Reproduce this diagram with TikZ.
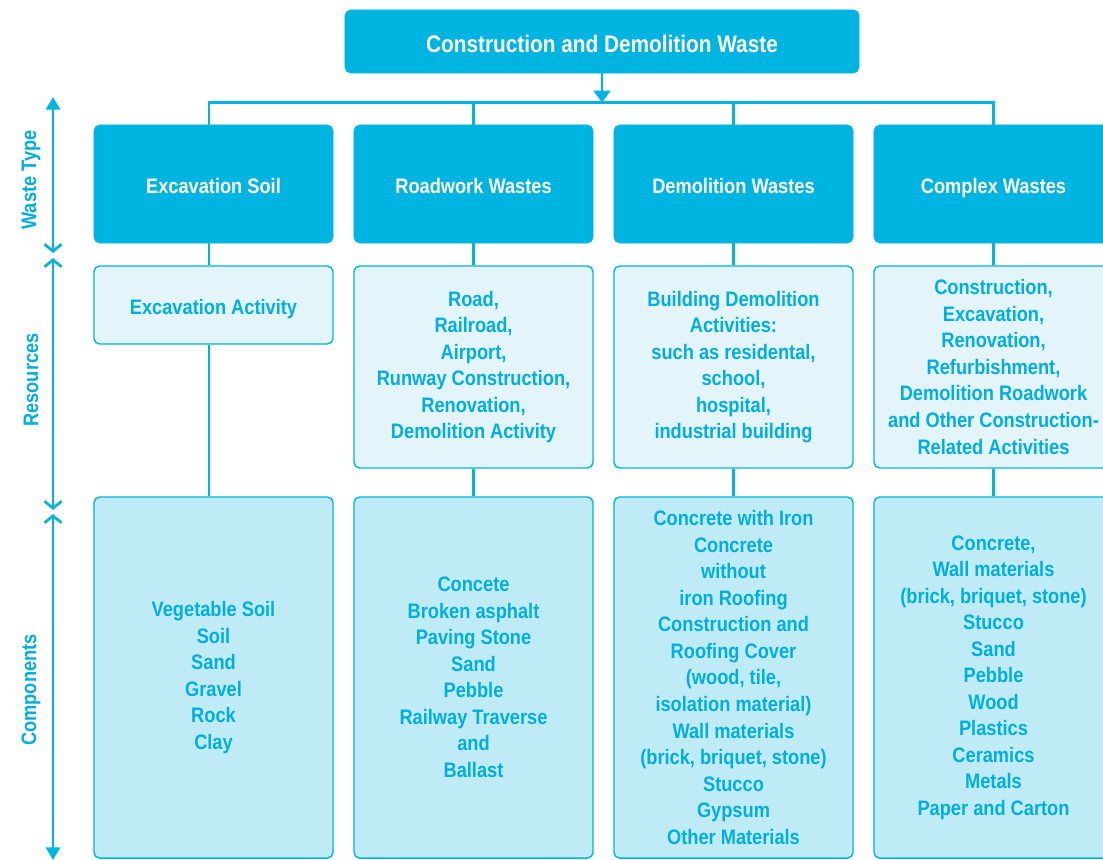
\documentclass[tikz,border=0pt]{standalone}
\usepackage{fontspec}
\newfontfamily\cdwfont[FakeStretch=0.87]{Liberation Sans}
\usepackage{tikz}
\usetikzlibrary{arrows.meta}

\definecolor{cdwblue}{HTML}{00B4E2}
\definecolor{cdwtext}{HTML}{00AEDF}
\definecolor{cdwpale}{HTML}{E3F5FB}
\definecolor{cdwlight}{HTML}{BFEBF7}

\begin{document}
\begin{tikzpicture}[x=0.025cm, y=-0.025cm,
    every node/.style={font=\cdwfont\bfseries\fontsize{14.9}{18.85}\selectfont, align=center},
    topbox/.style={fill=cdwblue, draw=cdwblue, rounded corners=4pt, text=white,
      minimum width=12.85cm, minimum height=1.575cm, text height=16pt, text depth=0pt,
      font=\cdwfont\bfseries\fontsize{17}{21}\selectfont},
    typebox/.style={fill=cdwblue, draw=cdwblue, rounded corners=4pt, text=white,
      minimum width=5.975cm, minimum height=2.95cm, text height=13pt, text depth=0pt},
    resbox/.style={fill=cdwpale, draw=cdwblue, line width=1pt, rounded corners=4pt, text=cdwtext,
      minimum width=5.975cm, minimum height=5.05cm},
    compbox/.style={fill=cdwlight, draw=cdwblue, line width=1pt, rounded corners=4pt, text=cdwtext,
      minimum width=5.975cm, minimum height=9.025cm},
    link/.style={draw=cdwblue, line width=1.8pt},
    axis/.style={draw=cdwblue, line width=1.9pt},
    axislabel/.style={text=cdwtext, rotate=90}]

    % Picture frame
    \useasboundingbox (0,0) rectangle (1103,860);
    \clip (0,0) rectangle (1103,860);

    % Top level
    \node[topbox] (cdw) at (602,41.5) {Construction and Demolition Waste};

    % Waste types
    \node[typebox] (type1) at (213.5,184) {Excavation Soil};
    \node[typebox] (type2) at (473.5,184) {Roadwork Wastes};
    \node[typebox] (type3) at (733.5,184) {Demolition Wastes};
    \node[typebox] (type4) at (993.5,184) {Complex Wastes};

    % Resources
    \node[resbox, minimum height=1.95cm, text height=13pt, text depth=0pt] (res1) at (213.5,305) {Excavation Activity};
    \node[resbox] (res2) at (473.5,367) {Road,\\Railroad,\\Airport,\\Runway Construction,\\Renovation,\\Demolition Activity};
    \node[resbox] (res3) at (733.5,367) {Building Demolition\\Activities:\\such as residental,\\school,\\hospital,\\industrial building};
    \node[resbox] (res4) at (993.5,367) {Construction,\\Excavation,\\Renovation,\\Refurbishment,\\Demolition Roadwork\\and Other Construction-\\Related Activities};

    % Components
    \node[compbox] (comp1) at (213.5,677.5) {Vegetable Soil\\Soil\\Sand\\Gravel\\Rock\\Clay};
    \node[compbox] (comp2) at (473.5,677.5) {Concete\\Broken asphalt\\Paving Stone\\Sand\\Pebble\\Railway Traverse\\and\\Ballast};
    \node[compbox] (comp3) at (733.5,677.5) {Concrete with Iron\\Concrete\\without\\iron Roofing\\Construction and\\Roofing Cover\\(wood, tile,\\isolation material)\\Wall materials\\(brick, briquet, stone)\\Stucco\\Gypsum\\Other Materials};
    \node[compbox] (comp4) at (993.5,677.5) {Concrete,\\Wall materials\\(brick, briquet, stone)\\Stucco\\Sand\\Pebble\\Wood\\Plastics\\Ceramics\\Metals\\Paper and Carton};

    % Branches from the top box
    \coordinate (bus) at (602,102.5);
    \coordinate (col1) at (209,0);
    \draw[link] (col1 |- type1.north) |- (bus) -| (type4.north);
    \draw[link] (type2.north) -- (type2.north |- bus);
    \draw[link] (type3.north) -- (type3.north |- bus);
    \draw[link, -{Triangle[width=12pt, length=8.5pt]}] (cdw.south) -- (bus);

    % Column links
    \draw[link] (col1 |- type1.south) -- (col1 |- res1.north);
    \draw[link] (col1 |- res1.south) -- (col1 |- comp1.north);
    \foreach \i in {2,...,4} {
      \draw[link] (type\i.south) -- (res\i.north);
      \draw[link] (res\i.south) -- (comp\i.north);
    }

    % Side axis
    \coordinate (ax0) at (53,97);
    \coordinate (ax1) at (53,253);
    \coordinate (ax2) at (53,258);
    \coordinate (ax3) at (53,510);
    \coordinate (ax4) at (53,514);
    \coordinate (ax5) at (53,860);
    \draw[axis, {Triangle[width=10pt, length=9pt]}-{Straight Barb[width=12pt, length=5pt]}] (ax0) -- (ax1);
    \draw[axis, {Straight Barb[width=12pt, length=5pt]}-{Straight Barb[width=12pt, length=5pt]}] (ax2) -- (ax3);
    \draw[axis, {Straight Barb[width=12pt, length=5pt]}-{Triangle[width=10pt, length=9pt]}] (ax4) -- (ax5);

    % Axis labels
    \node[axislabel] (lbltype) at (31,180) {Waste Type};
    \node[axislabel] (lblres) at (31,380) {Resources};
    \node[axislabel] (lblcomp) at (31,690) {Components};

\end{tikzpicture}
\end{document}
